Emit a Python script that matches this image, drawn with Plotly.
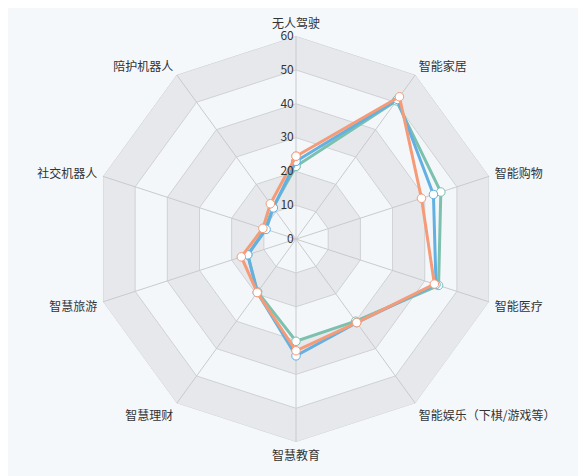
import plotly.graph_objects as go

categories = ['无人驾驶', '智能家居', '智能购物', '智能医疗', '智能娱乐（下棋/游戏等）',
              '智慧教育', '智慧理财', '智慧旅游', '社交机器人', '陪护机器人']
series_a = [24.5, 52.0, 39.0, 43.0, 30.5, 33.0, 19.5, 17.0, 10.3, 12.9]
series_b = [23.0, 51.0, 42.7, 43.5, 30.5, 34.5, 19.5, 15.0, 9.3, 11.4]
series_c = [21.5, 50.5, 45.0, 44.3, 30.0, 30.2, 19.3, 15.0, 9.6, 11.6]
rings = [60, 50, 40, 30, 20, 10]
radial_ticks = [0, 10, 20, 30, 40, 50, 60]

bg = '#f5f8fb'
fig = go.Figure()

# bands of the radar grid
for i, r in enumerate(rings):
    fig.add_trace(go.Scatterpolar(
        r=[r] * len(categories) + [r], theta=categories + [categories[0]],
        mode='lines', fill='toself',
        fillcolor='#e6e8eb' if i % 2 == 0 else '#f4f7fa',
        line=dict(color='#cfd1d4', width=1),
        hoverinfo='skip', showlegend=False))

# spokes
for c in categories:
    fig.add_trace(go.Scatterpolar(
        r=[0, 60], theta=[c, c], mode='lines',
        line=dict(color='#c8cacd', width=1),
        hoverinfo='skip', showlegend=False))

for name, vals, color in [('系列3', series_c, '#7cc0ae'),
                          ('系列2', series_b, '#63b0e3'),
                          ('系列1', series_a, '#f59b78')]:
    fig.add_trace(go.Scatterpolar(
        r=vals + [vals[0]], theta=categories + [categories[0]],
        mode='lines+markers', name=name,
        line=dict(color=color, width=3),
        marker=dict(size=8.5, color='white', line=dict(color=color, width=1)),
        showlegend=False))

fig.update_layout(
    width=586, height=476,
    margin=dict(l=0, r=0, t=0, b=0),
    paper_bgcolor=bg,
    font=dict(family='Noto Sans CJK SC', size=12, color='#333333'),
    polar=dict(
        domain=dict(x=[0.145, 0.838], y=[0.088, 0.941]),
        bgcolor=bg,
        angularaxis=dict(direction='clockwise', rotation=90,
                         categoryorder='array', categoryarray=categories,
                         showgrid=False, showline=False,
                         ticks='outside', ticklen=3, tickcolor='rgba(0,0,0,0)'),
        radialaxis=dict(range=[0, 60], tickvals=radial_ticks,
                        showgrid=False, showline=False, ticks='',
                        angle=90, tickangle=90, side='counterclockwise',
                        tickfont=dict(size=12, color='#333333')),
        gridshape='linear'),
)

fig.write_html("out.html")
